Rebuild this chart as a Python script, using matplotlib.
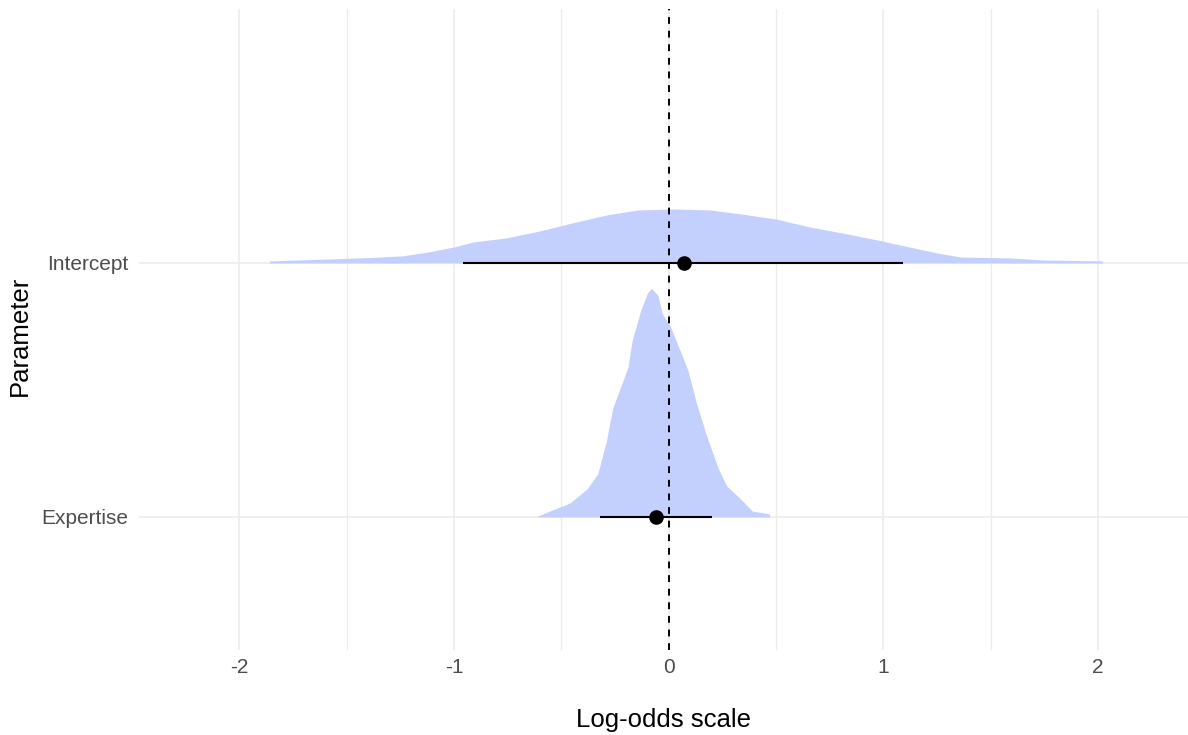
import matplotlib.pyplot as plt
from matplotlib.ticker import MultipleLocator

plt.rcParams['font.family'] = ['Liberation Sans', 'DejaVu Sans']

params = ["Expertise", "Intercept"]
ypos = [1, 2]

# posterior density outlines (log-odds, relative density)
icpt_x = [-1.86, -1.56, -1.36, -1.24, -1.12, -1.00, -0.91, -0.76, -0.60, -0.45,
          -0.29, -0.14, 0.02, 0.19, 0.34, 0.50, 0.66, 0.81, 0.97, 1.12,
          1.25, 1.36, 1.59, 1.74, 2.02]
icpt_d = [0.009, 0.018, 0.025, 0.031, 0.048, 0.070, 0.092, 0.109, 0.140, 0.175,
          0.210, 0.232, 0.236, 0.232, 0.214, 0.192, 0.157, 0.131, 0.101, 0.070,
          0.044, 0.026, 0.022, 0.013, 0.009]
expt_x = [-0.61, -0.54, -0.46, -0.38, -0.33, -0.29, -0.26, -0.23, -0.19, -0.17,
          -0.13, -0.10, -0.08, -0.05, -0.03, 0.01, 0.04, 0.09, 0.13, 0.18,
          0.23, 0.27, 0.33, 0.39, 0.47]
expt_d = [0.004, 0.031, 0.061, 0.123, 0.189, 0.333, 0.478, 0.553, 0.654, 0.772,
          0.904, 0.978, 1.000, 0.969, 0.890, 0.829, 0.759, 0.640, 0.496, 0.346,
          0.215, 0.136, 0.083, 0.026, 0.013]

# point estimates and intervals
est = [-0.06, 0.07]
lo = [-0.32, -0.96]
hi = [0.20, 1.09]

scale = 0.9

fig = plt.figure(figsize=(11.88, 7.35), dpi=100)
ax = fig.add_axes([0.117, 0.1156, 0.883, 0.8722])

grid_col = "#ebebeb"
ax.xaxis.set_major_locator(MultipleLocator(1))
ax.xaxis.set_minor_locator(MultipleLocator(0.5))
ax.grid(True, which="major", color=grid_col, lw=1.1, zorder=0)
ax.grid(True, which="minor", axis="x", color=grid_col, lw=0.9, zorder=0)

slab_col = "#c3cffd"
for y, xs, ds in [(1, expt_x, expt_d), (2, icpt_x, icpt_d)]:
    ax.fill_between(xs, y, [y + scale * d for d in ds], color=slab_col, lw=0, zorder=2)

ax.axvline(0, color="black", lw=1.4, ls=(0, (3.5, 3.5)), zorder=3)

ax.hlines(ypos, lo, hi, color="black", lw=1.5, zorder=4)
ax.plot(est, ypos, "o", color="black", ms=9.5, zorder=5)

ax.set_xlim(-2.468, 2.42)
ax.set_ylim(0.476, 3.0)
ax.set_yticks(ypos)
ax.set_yticklabels(params)
ax.set_xticks([-2, -1, 0, 1, 2])
ax.set_xticklabels(["-2", "-1", "0", "1", "2"])

for s in ax.spines.values():
    s.set_visible(False)
ax.tick_params(which="both", length=0)
ax.tick_params(axis="x", pad=6, labelsize=15, labelcolor="#4d4d4d")
ax.tick_params(axis="y", pad=8, labelsize=15, labelcolor="#4d4d4d")

ax.set_xlabel("Log-odds scale", fontsize=18.5, labelpad=22)
ax.set_ylabel("Parameter", fontsize=18.5, labelpad=6)
ax.yaxis.set_label_coords(-0.102, 0.49)

fig.savefig("out.png", dpi=100)
